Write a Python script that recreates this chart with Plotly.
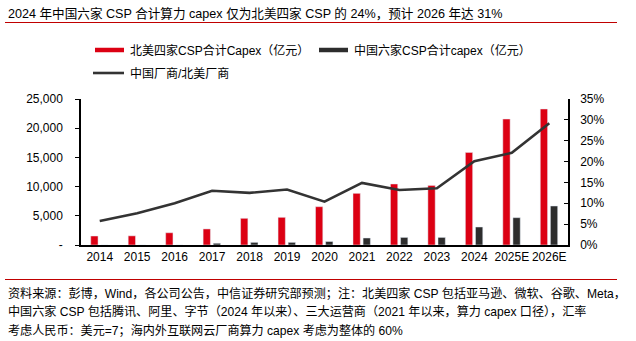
import plotly.graph_objects as go

years = ["2014", "2015", "2016", "2017", "2018", "2019", "2020", "2021",
         "2022", "2023", "2024", "2025E", "2026E"]
na_capex = [1540, 1570, 2100, 2750, 4570, 4740, 6560, 8850,
            10450, 10200, 15850, 21570, 23290]
cn_capex = [0, 0, 0, 300, 450, 450, 600, 1200,
            1300, 1300, 3080, 4680, 6680]
ratio = [0.0575, 0.076, 0.100, 0.130, 0.125, 0.133, 0.104, 0.149,
         0.132, 0.136, 0.201, 0.221, 0.292]
left_ticks = [0, 5000, 10000, 15000, 20000, 25000]
left_ticktext = ["-", "5,000", "10,000", "15,000", "20,000", "25,000"]
name_na = "北美四家CSP合计Capex（亿元）"
name_cn = "中国六家CSP合计capex（亿元）"
name_ratio = "中国厂商/北美厂商"
title = "2024 年中国六家 CSP 合计算力 capex 仅为北美四家 CSP 的 24%，预计 2026 年达 31%"
notes = [
    "资料来源：彭博，Wind，各公司公告，中信证券研究部预测；注：北美四家 CSP 包括亚马逊、微软、谷歌、Meta，",
    "中国六家 CSP 包括腾讯、阿里、字节（2024 年以来）、三大运营商（2021 年以来，算力 capex 口径），汇率",
    "考虑人民币：美元=7；海内外互联网云厂商算力 capex 考虑为整体的 60%",
]

W, H = 636, 341
L, R, T, B = 81, 568, 99, 245
RED = "#DC0013"
DARK = "#2D2D2D"
FONT = "Liberation Sans, Arial, Noto Sans CJK SC, sans-serif"


def px(x):
    return (x - L) / (R - L)


def py(y):
    return (B - y) / (B - T)


fig = go.Figure()
fig.add_trace(go.Bar(x=years, y=na_capex, name=name_na, marker_color=RED,
                     offset=-0.24, width=0.195, showlegend=False))
fig.add_trace(go.Bar(x=years, y=cn_capex, name=name_cn, marker_color=DARK,
                     offset=0.03, width=0.195, showlegend=False))
fig.add_trace(go.Scatter(x=years, y=ratio, name=name_ratio, yaxis="y2",
                         mode="lines", line=dict(color="#333333", width=2.6),
                         showlegend=False))

shapes = []
annotations = []
# title and rules
annotations.append(dict(text=title, x=px(6), y=py(13.5), xref="paper", yref="paper",
                        xanchor="left", yanchor="middle", showarrow=False,
                        font=dict(size=12.6, color="#000000")))
shapes.append(dict(type="line", xref="paper", yref="paper", x0=px(5), x1=px(617),
                   y0=py(22.5), y1=py(22.5), line=dict(color="#C00000", width=1.2)))
shapes.append(dict(type="line", xref="paper", yref="paper", x0=px(5), x1=px(617),
                   y0=py(279.5), y1=py(279.5), line=dict(color="#C00000", width=1.2)))
for i, (t, yy) in enumerate(zip(notes, [293.5, 311.8, 330.2])):
    annotations.append(dict(text=t, x=px(6), y=py(yy), xref="paper", yref="paper",
                            xanchor="left", yanchor="middle", showarrow=False,
                            font=dict(size=12.1, color="#000000")))

# manual legend
leg = [
    (95, 124, 50, RED, 4.5, name_na, 128),
    (319, 348, 50, DARK, 4.5, name_cn, 352),
    (93, 124, 73, "#333333", 2.6, name_ratio, 128),
]
for x0, x1, yy, col, th, name, tx in leg:
    shapes.append(dict(type="line", xref="paper", yref="paper", x0=px(x0), x1=px(x1),
                       y0=py(yy), y1=py(yy), line=dict(color=col, width=th)))
    annotations.append(dict(text=name, x=px(tx), y=py(yy), xref="paper", yref="paper",
                            xanchor="left", yanchor="middle", showarrow=False,
                            font=dict(size=12, color="#000000")))

fig.update_layout(
    width=W, height=H,
    margin=dict(l=L, r=W - R, t=T, b=H - B, pad=0),
    paper_bgcolor="white", plot_bgcolor="white",
    font=dict(family=FONT, size=12, color="#000000"),
    barmode="group",
    shapes=shapes, annotations=annotations,
    xaxis=dict(type="category", showline=True, linecolor="#000000", linewidth=1.5,
               ticks="", showgrid=False, tickfont=dict(size=12), zeroline=False),
    yaxis=dict(range=[0, 25000], tickvals=left_ticks, ticktext=left_ticktext,
               showline=True, linecolor="#000000", linewidth=1.5, ticks="outside",
               ticklen=4, tickcolor="#000000", showgrid=False, zeroline=False,
               ticklabelstandoff=10, tickfont=dict(size=12)),
    yaxis2=dict(range=[0, 0.35], dtick=0.05, tickformat=".0%", overlaying="y",
                side="right", showline=True, linecolor="#000000", linewidth=1.5,
                ticks="inside", ticklen=4, tickcolor="#000000", showgrid=False,
                zeroline=False, ticklabelstandoff=8, tickfont=dict(size=12)),
)

fig.write_html("out.html")
